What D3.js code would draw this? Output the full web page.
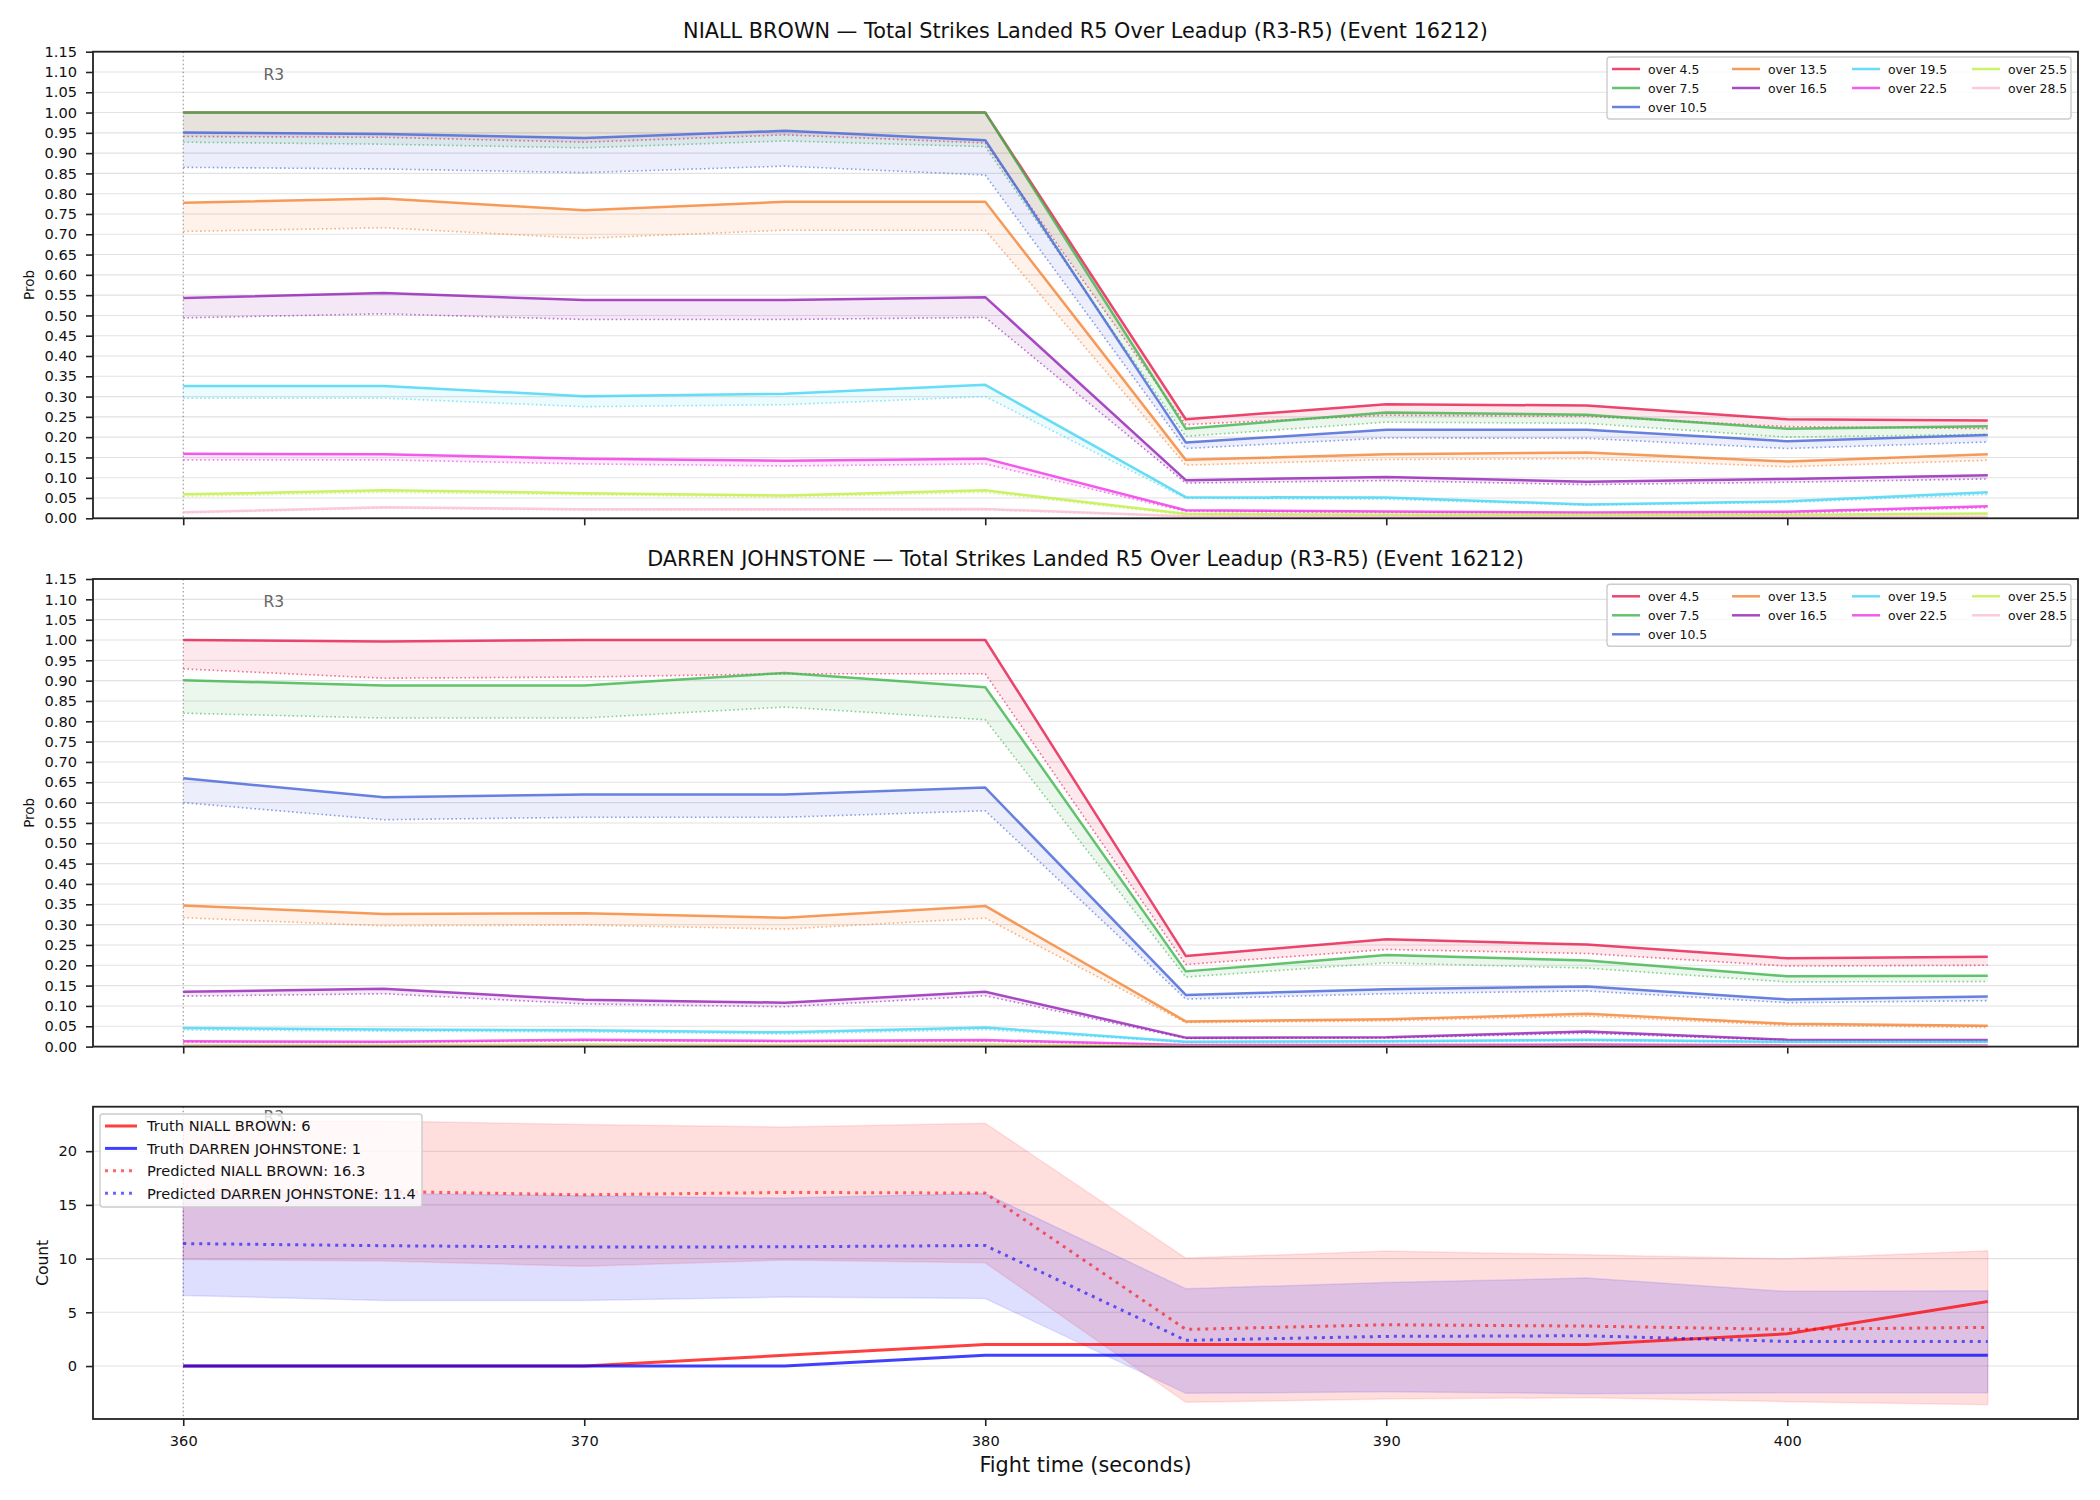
<!DOCTYPE html>
<html>
<head>
<meta charset="utf-8">
<script src="https://cdn.jsdelivr.net/npm/d3@7"></script>
<style>
  body { margin: 0; background: #fff; }
  svg { font-family: "DejaVu Sans", sans-serif; }
</style>
</head>
<body>
<div id="chart"></div>
<script>
// ---- data ----
const times = [360, 365, 370, 375, 380, 385, 390, 395, 400, 405];
const xTicks = [360, 370, 380, 390, 400];
const thresholds = ["over 4.5", "over 7.5", "over 10.5", "over 13.5", "over 16.5",
  "over 19.5", "over 22.5", "over 25.5", "over 28.5"];
const lineColors = ["#e6194b", "#3cb44b", "#4363d8", "#f58231", "#911eb4",
  "#42d4f4", "#f032e6", "#bfef45", "#fabed4"];

// NIALL BROWN: solid = model prob, dotted = reference prob
const brownSolid = [
  [1.0, 1.0, 1.0, 1.0, 1.0, 0.244, 0.281, 0.278, 0.244, 0.241],
  [1.0, 1.0, 1.0, 1.0, 1.0, 0.221, 0.261, 0.255, 0.221, 0.227],
  [0.951, 0.947, 0.937, 0.955, 0.932, 0.187, 0.218, 0.218, 0.190, 0.205],
  [0.778, 0.788, 0.759, 0.780, 0.780, 0.144, 0.158, 0.162, 0.140, 0.158],
  [0.543, 0.555, 0.538, 0.538, 0.545, 0.094, 0.102, 0.090, 0.097, 0.106],
  [0.326, 0.326, 0.301, 0.307, 0.329, 0.052, 0.051, 0.034, 0.042, 0.064],
  [0.159, 0.158, 0.147, 0.142, 0.147, 0.020, 0.017, 0.014, 0.016, 0.030],
  [0.059, 0.069, 0.062, 0.056, 0.069, 0.011, 0.009, 0.009, 0.009, 0.012],
  [0.015, 0.027, 0.022, 0.022, 0.023, 0.005, 0.004, 0.004, 0.004, 0.004]
];
const brownDotted = [
  [0.941, 0.939, 0.927, 0.945, 0.925, 0.231, 0.254, 0.251, 0.226, 0.221],
  [0.927, 0.922, 0.913, 0.930, 0.916, 0.202, 0.237, 0.234, 0.200, 0.207],
  [0.865, 0.861, 0.852, 0.868, 0.846, 0.172, 0.198, 0.197, 0.172, 0.188],
  [0.707, 0.716, 0.690, 0.710, 0.710, 0.131, 0.145, 0.147, 0.127, 0.143],
  [0.494, 0.504, 0.490, 0.490, 0.495, 0.087, 0.093, 0.083, 0.089, 0.097],
  [0.296, 0.296, 0.275, 0.280, 0.300, 0.049, 0.047, 0.032, 0.039, 0.059],
  [0.144, 0.144, 0.134, 0.129, 0.134, 0.017, 0.014, 0.012, 0.012, 0.026],
  [0.054, 0.064, 0.058, 0.052, 0.064, 0.008, 0.007, 0.007, 0.007, 0.010],
  [0.013, 0.025, 0.020, 0.020, 0.021, 0.004, 0.003, 0.003, 0.003, 0.003]
];

// DARREN JOHNSTONE
const johnSolid = [
  [1.0, 0.996, 1.0, 1.0, 1.0, 0.223, 0.264, 0.251, 0.217, 0.221],
  [0.901, 0.888, 0.888, 0.919, 0.884, 0.185, 0.225, 0.212, 0.173, 0.174],
  [0.660, 0.613, 0.620, 0.620, 0.637, 0.127, 0.141, 0.148, 0.116, 0.123],
  [0.347, 0.326, 0.328, 0.317, 0.346, 0.062, 0.067, 0.081, 0.056, 0.051],
  [0.135, 0.142, 0.115, 0.108, 0.135, 0.022, 0.023, 0.037, 0.017, 0.016],
  [0.046, 0.042, 0.040, 0.035, 0.047, 0.012, 0.013, 0.017, 0.012, 0.012],
  [0.013, 0.012, 0.017, 0.014, 0.016, 0.004, 0.004, 0.005, 0.003, 0.003],
  [0.004, 0.004, 0.005, 0.004, 0.005, 0.001, 0.001, 0.001, 0.001, 0.001],
  [0.002, 0.002, 0.002, 0.002, 0.002, 0.000, 0.000, 0.000, 0.000, 0.000]
];
const johnDotted = [
  [0.929, 0.906, 0.909, 0.917, 0.917, 0.202, 0.239, 0.229, 0.198, 0.200],
  [0.820, 0.808, 0.808, 0.835, 0.804, 0.171, 0.206, 0.193, 0.159, 0.160],
  [0.600, 0.558, 0.564, 0.564, 0.580, 0.117, 0.130, 0.137, 0.108, 0.113],
  [0.317, 0.297, 0.299, 0.289, 0.316, 0.059, 0.063, 0.075, 0.052, 0.047],
  [0.124, 0.130, 0.105, 0.098, 0.125, 0.020, 0.021, 0.033, 0.015, 0.014],
  [0.041, 0.038, 0.036, 0.031, 0.042, 0.010, 0.011, 0.014, 0.010, 0.010],
  [0.011, 0.010, 0.014, 0.012, 0.013, 0.003, 0.003, 0.004, 0.002, 0.002],
  [0.003, 0.003, 0.004, 0.003, 0.004, 0.001, 0.001, 0.001, 0.001, 0.001],
  [0.001, 0.001, 0.001, 0.001, 0.001, 0.000, 0.000, 0.000, 0.000, 0.000]
];

// count panel
const truthBrown = [0, 0, 0, 1, 2, 2, 2, 2, 3, 6];
const truthJohn = [0, 0, 0, 0, 1, 1, 1, 1, 1, 1];
const predBrown = [16.3, 16.25, 15.94, 16.16, 16.1, 3.41, 3.84, 3.72, 3.41, 3.6];
const predJohn = [11.4, 11.2, 11.07, 11.1, 11.22, 2.39, 2.76, 2.82, 2.29, 2.29];
const brownHi = [22.8, 22.8, 22.48, 22.26, 22.6, 10.05, 10.7, 10.36, 9.98, 10.73];
const brownLo = [9.92, 9.77, 9.3, 9.86, 9.61, -3.38, -3.07, -2.95, -3.32, -3.6];
const johnHi = [16.0, 16.06, 15.84, 15.63, 16.06, 7.19, 7.78, 8.19, 6.95, 7.0];
const johnLo = [6.57, 6.11, 6.11, 6.42, 6.29, -2.54, -2.39, -2.57, -2.48, -2.48];

// ---- layout ----
const width = 2100, height = 1500;
const left = 93, right = 2078;
const font = "DejaVu Sans";

const svg = d3.select("#chart").append("svg")
  .attr("width", width).attr("height", height)
  .attr("viewBox", `0 0 ${width} ${height}`);
svg.append("rect").attr("width", width).attr("height", height).attr("fill", "#fff");

const x = d3.scaleLinear().domain([357.75, 407.25]).range([left, right]);

function styleAxis(g) {
  g.select(".domain").remove();
  g.selectAll(".tick line").attr("stroke", "#222").attr("stroke-width", 1.6);
  g.selectAll(".tick text").attr("fill", "#111")
    .style("font-family", font).style("font-size", "14.6px");
}

function drawFrame(top, bottom, y, yTicks, yFmt, showXLabels) {
  // grid
  svg.append("g").selectAll("line").data(yTicks).join("line")
    .attr("x1", left).attr("x2", right)
    .attr("y1", d => y(d)).attr("y2", d => y(d))
    .attr("stroke", "#e2e2e2").attr("stroke-width", 1.1);

  svg.append("g").attr("transform", `translate(${left},0)`)
    .call(d3.axisLeft(y).tickValues(yTicks).tickFormat(yFmt).tickSize(7).tickPadding(9))
    .call(styleAxis);

  svg.append("g").attr("transform", `translate(0,${bottom})`)
    .call(d3.axisBottom(x).tickValues(xTicks).tickSize(7).tickPadding(10)
      .tickFormat(showXLabels ? d3.format("d") : ""))
    .call(styleAxis);

  // round marker
  svg.append("line")
    .attr("x1", x(360)).attr("x2", x(360)).attr("y1", top).attr("y2", bottom)
    .attr("stroke", "#555").attr("stroke-width", 1).attr("stroke-opacity", 0.7)
    .attr("stroke-dasharray", "1.5,2.5");
}

function drawSpines(top, bottom) {
  svg.append("rect")
    .attr("x", left).attr("y", top).attr("width", right - left).attr("height", bottom - top)
    .attr("fill", "none").attr("stroke", "#222").attr("stroke-width", 1.8);
}

function drawProbPanel(top, bottom, title, solid, dotted) {
  const y = d3.scaleLinear().domain([0, 1.15]).range([bottom, top]);
  const yTicks = d3.range(0, 24).map(i => i * 0.05);
  drawFrame(top, bottom, y, yTicks, d3.format(".2f"), false);

  svg.append("text")
    .attr("x", x(362)).attr("y", y(1.15 * 0.94))
    .attr("fill", "#666").style("font-family", font).style("font-size", "15.5px")
    .text("R3");

  const line = d3.line().x((d, i) => x(times[i])).y(d => y(d));

  thresholds.forEach((t, k) => {
    const c = lineColors[k];
    const area = d3.area()
      .x((d, i) => x(times[i]))
      .y0((d, i) => y(dotted[k][i]))
      .y1(d => y(d));
    svg.append("path").datum(solid[k]).attr("d", area)
      .attr("fill", c).attr("fill-opacity", 0.1);
    svg.append("path").datum(solid[k]).attr("d", line)
      .attr("fill", "none").attr("stroke", c).attr("stroke-opacity", 0.8)
      .attr("stroke-width", 2.5).attr("stroke-linejoin", "round");
    svg.append("path").datum(dotted[k]).attr("d", line)
      .attr("fill", "none").attr("stroke", c).attr("stroke-opacity", 0.6)
      .attr("stroke-width", 1.6).attr("stroke-dasharray", "1.6,2.6");
  });

  drawSpines(top, bottom);

  svg.append("text")
    .attr("x", (left + right) / 2).attr("y", top - 13.5)
    .attr("text-anchor", "middle").attr("fill", "#111")
    .style("font-family", font).style("font-size", "20.8px")
    .text(title);

  svg.append("text")
    .attr("transform", `translate(33.5,${(top + bottom) / 2}) rotate(-90)`)
    .attr("text-anchor", "middle").attr("fill", "#111")
    .style("font-family", font).style("font-size", "13.5px")
    .text("Prob");

  // legend, 4 columns filled column-wise
  const lg = svg.append("g");
  lg.append("rect")
    .attr("x", 1607).attr("y", top + 5.3).attr("width", 464).attr("height", 62)
    .attr("rx", 3).attr("fill", "#fff").attr("fill-opacity", 0.8)
    .attr("stroke", "#cccccc").attr("stroke-width", 1.4);
  const cols = [[0, 1, 2], [3, 4], [5, 6], [7, 8]];
  cols.forEach((col, ci) => {
    col.forEach((k, ri) => {
      const cx = 1612 + ci * 120;
      const cy = top + 17.3 + ri * 19;
      lg.append("line").attr("x1", cx).attr("x2", cx + 28).attr("y1", cy).attr("y2", cy)
        .attr("stroke", lineColors[k]).attr("stroke-opacity", 0.8).attr("stroke-width", 2.5);
      lg.append("text").attr("x", cx + 36).attr("y", cy + 4.5)
        .attr("fill", "#111").style("font-family", font).style("font-size", "12.4px")
        .text(thresholds[k]);
    });
  });
}

drawProbPanel(51.7, 518.3,
  "NIALL BROWN \u2014 Total Strikes Landed R5 Over Leadup (R3-R5) (Event 16212)",
  brownSolid, brownDotted);
drawProbPanel(579, 1046.6,
  "DARREN JOHNSTONE \u2014 Total Strikes Landed R5 Over Leadup (R3-R5) (Event 16212)",
  johnSolid, johnDotted);

// ---- count panel ----
(function () {
  const top = 1106.7, bottom = 1419;
  const y = d3.scaleLinear().domain([-4.93, 24.14]).range([bottom, top]);
  drawFrame(top, bottom, y, [0, 5, 10, 15, 20], d3.format("d"), true);

  svg.append("text")
    .attr("x", x(362)).attr("y", y(24.14 * 0.94))
    .attr("fill", "#666").style("font-family", font).style("font-size", "15.5px")
    .text("R3");

  const band = (lo, hi) => d3.area()
    .x((d, i) => x(times[i])).y0((d, i) => y(lo[i])).y1(d => y(d))(hi);
  const line = d3.line().x((d, i) => x(times[i])).y(d => y(d));

  svg.append("path").attr("d", band(brownLo, brownHi))
    .attr("fill", "red").attr("fill-opacity", 0.13)
    .attr("stroke", "red").attr("stroke-opacity", 0.1).attr("stroke-width", 1.5);
  svg.append("path").attr("d", band(johnLo, johnHi))
    .attr("fill", "blue").attr("fill-opacity", 0.13)
    .attr("stroke", "blue").attr("stroke-opacity", 0.1).attr("stroke-width", 1.5);

  const series = [
    { data: truthBrown, color: "red", dash: null, op: 0.75, label: "Truth NIALL BROWN: 6" },
    { data: truthJohn, color: "blue", dash: null, op: 0.75, label: "Truth DARREN JOHNSTONE: 1" },
    { data: predBrown, color: "red", dash: "3,5", op: 0.6, label: "Predicted NIALL BROWN: 16.3" },
    { data: predJohn, color: "blue", dash: "3,5", op: 0.6, label: "Predicted DARREN JOHNSTONE: 11.4" }
  ];
  series.forEach(s => {
    svg.append("path").datum(s.data).attr("d", line)
      .attr("fill", "none").attr("stroke", s.color).attr("stroke-opacity", s.op)
      .attr("stroke-width", 3).attr("stroke-dasharray", s.dash);
  });

  drawSpines(top, bottom);

  svg.append("text")
    .attr("transform", `translate(48,${(top + bottom) / 2}) rotate(-90)`)
    .attr("text-anchor", "middle").attr("fill", "#111")
    .style("font-family", font).style("font-size", "15.5px")
    .text("Count");

  svg.append("text")
    .attr("x", (left + right) / 2).attr("y", 1472)
    .attr("text-anchor", "middle").attr("fill", "#111")
    .style("font-family", font).style("font-size", "20.8px")
    .text("Fight time (seconds)");

  const lg = svg.append("g");
  lg.append("rect")
    .attr("x", 100).attr("y", 1114).attr("width", 322).attr("height", 93)
    .attr("rx", 3).attr("fill", "#fff").attr("fill-opacity", 0.8)
    .attr("stroke", "#cccccc").attr("stroke-width", 1.4);
  series.forEach((s, i) => {
    const cy = 1126 + i * 22.4;
    lg.append("line").attr("x1", 105).attr("x2", 137).attr("y1", cy).attr("y2", cy)
      .attr("stroke", s.color).attr("stroke-opacity", s.op).attr("stroke-width", 3)
      .attr("stroke-dasharray", s.dash);
    lg.append("text").attr("x", 147).attr("y", cy + 5.3)
      .attr("fill", "#111").style("font-family", font).style("font-size", "14.6px")
      .text(s.label);
  });
})();
</script>
</body>
</html>
